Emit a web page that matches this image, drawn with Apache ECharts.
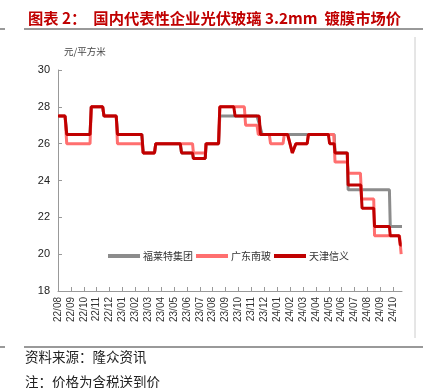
<!DOCTYPE html>
<html><head><meta charset="utf-8">
<script src="https://cdn.jsdelivr.net/npm/echarts@6/dist/echarts.min.js"></script>
<style>html,body{margin:0;padding:0;background:#fff}#c{width:433px;height:388px}</style>
</head><body><div id="c"></div>
<script>
// ---- data ----
const monthLabels = ['22/08','22/09','22/10','22/11','22/12','23/01','23/02','23/03','23/04','23/05','23/06','23/07','23/08','23/09','23/10','23/11','23/12','24/01','24/02','24/03','24/04','24/05','24/06','24/07','24/08','24/09','24/10'];
const yTicks = [18, 20, 22, 24, 26, 28, 30];
const seriesNames = ['福莱特集团', '广东南玻', '天津信义'];

const xinyiDates  = ['2022-08-01','2022-08-18','2022-08-22','2022-10-16','2022-10-19','2022-11-15','2022-11-18','2022-12-17','2022-12-20','2023-02-15','2023-02-18','2023-03-16','2023-03-19','2023-05-16','2023-05-19','2023-06-14','2023-06-16','2023-07-14','2023-07-16','2023-08-15','2023-08-18','2023-09-20','2023-09-23','2023-11-19','2023-11-22','2024-01-26','2024-02-06','2024-02-10','2024-02-14','2024-03-11','2024-03-14','2024-04-30','2024-05-03','2024-05-14','2024-05-16','2024-06-14','2024-06-16','2024-07-16','2024-07-19','2024-08-16','2024-08-18','2024-09-22','2024-09-24','2024-10-15','2024-10-18','2024-10-21'];
const xinyiValues = [27.5,27.5,26.5,26.5,28,28,27.5,27.5,26.5,26.5,25.5,25.5,26,26,25.5,25.5,25.2,25.2,26,26,28,28,27.5,27.5,26.5,26.5,25.5,25.5,26,26,26.5,26.5,26,26,25.5,25.5,23.75,23.75,22.5,22.5,21.5,21.5,21,21,20.5,20.5];

const nanboDates  = ['2022-08-01','2022-08-18','2022-08-22','2022-10-16','2022-10-19','2022-11-15','2022-11-18','2022-12-17','2022-12-20','2023-02-15','2023-02-18','2023-03-16','2023-03-19','2023-06-14','2023-06-16','2023-07-14','2023-07-16','2023-08-15','2023-08-18','2023-10-15','2023-10-18','2023-11-14','2023-11-17','2023-12-13','2023-12-16','2024-01-15','2024-01-18','2024-01-26','2024-02-06','2024-02-10','2024-02-14','2024-03-11','2024-03-14','2024-05-13','2024-05-16','2024-06-14','2024-06-16','2024-07-15','2024-07-18','2024-08-16','2024-08-18','2024-10-16','2024-10-20'];
const nanboValues = [27.5,27.5,26,26,28,28,27.5,27.5,26,26,25.5,25.5,26,26,25.5,25.5,26,26,28,28,27,27,26.5,26.5,26,26,26.5,26.5,25.5,25.5,26,26,26.5,26.5,25,25,24.4,24.4,23,23,21,21,20];

const flatDates  = ['2022-08-01','2022-08-18','2022-08-22','2022-10-16','2022-10-19','2022-11-15','2022-11-18','2022-12-17','2022-12-20','2023-02-15','2023-02-18','2023-03-16','2023-03-19','2023-05-16','2023-05-19','2023-06-14','2023-06-16','2023-07-14','2023-07-16','2023-08-15','2023-08-18','2023-11-14','2023-11-26','2024-05-14','2024-05-16','2024-06-14','2024-06-16','2024-09-22','2024-09-24','2024-10-22'];
const flatValues = [27.5,27.5,26.5,26.5,28,28,27.5,27.5,26.5,26.5,25.5,25.5,26,26,25.5,25.5,25.2,25.2,26,26,27.5,27.5,26.5,26.5,25.5,25.5,23.5,23.5,21.5,21.5];

const axisEnd = '2024-10-22';

// ---- helpers ----
function monthPos(s) {
  const [y, mo, d] = s.split('-').map(Number);
  const dim = new Date(y, mo, 0).getDate();
  return (y - 2022) * 12 + (mo - 8) + (d - 1) / dim;
}
function pairs(dates, vals) { return dates.map((d, i) => [monthPos(d), vals[i]]); }

const colors = ['#8c8c8c', '#ff6f6f', '#c00000'];
const lineData = [pairs(flatDates, flatValues), pairs(nanboDates, nanboValues), pairs(xinyiDates, xinyiValues)];
const tickIdx = monthLabels.map((_, i) => i);

const chart = echarts.init(document.getElementById('c'), null, { renderer: 'canvas' });
const font = '"Noto Sans CJK SC", sans-serif';
chart.setOption({
  animation: false,
  backgroundColor: '#fff',
  title: {
    text: '图表 2：  国内代表性企业光伏玻璃 3.2mm  镀膜市场价',
    left: 23, top: 6,
    textStyle: { color: '#c00000', fontSize: 15.3, fontWeight: 'bold', fontFamily: font }
  },
  grid: { left: 58, right: 31, top: 70, bottom: 97, containLabel: false },
  legend: {
    data: seriesNames,
    left: 103, top: 246,
    icon: 'rect', itemWidth: 32, itemHeight: 4, itemGap: 3,
    textStyle: { fontSize: 10, color: '#333', fontFamily: font, padding: [0, 0, 0, -2] }
  },
  xAxis: {
    type: 'value', min: 0, max: monthPos(axisEnd), interval: 1,
    splitLine: { show: false },
    axisLine: { lineStyle: { color: '#999', width: 1 } },
    axisTick: { inside: true, length: 4, customValues: tickIdx, lineStyle: { color: '#999' } },
    axisLabel: {
      customValues: tickIdx, rotate: 90, fontSize: 10, color: '#333', margin: 6,
      fontFamily: 'Liberation Sans, Arial, sans-serif',
      formatter: v => monthLabels[Math.round(v)] || ''
    }
  },
  yAxis: {
    type: 'value', min: yTicks[0], max: yTicks[yTicks.length - 1], interval: 2,
    splitLine: { show: false },
    axisLine: { show: true, lineStyle: { color: '#999', width: 1 } },
    axisTick: { show: true, inside: true, length: 4, lineStyle: { color: '#999' } },
    axisLabel: { fontSize: 11, color: '#222', margin: 8, fontFamily: 'Liberation Sans, Arial, sans-serif' }
  },
  series: lineData.map((d, i) => ({
    name: seriesNames[i], type: 'line', data: d, showSymbol: false,
    color: colors[i], lineStyle: { width: 3, color: colors[i] }, z: 2 + i
  })),
  graphic: [
    { type: 'line', shape: { x1: 0, y1: 29, x2: 5, y2: 29 }, style: { stroke: '#777', lineWidth: 1.5 } },
    { type: 'line', shape: { x1: 24, y1: 29, x2: 423, y2: 29 }, style: { stroke: '#777', lineWidth: 1.5 } },
    { type: 'line', shape: { x1: 415, y1: 37, x2: 415, y2: 338 }, style: { stroke: '#ccc', lineWidth: 1 } },
    { type: 'line', shape: { x1: 0, y1: 347, x2: 5, y2: 347 }, style: { stroke: '#777', lineWidth: 1.5 } },
    { type: 'line', shape: { x1: 24, y1: 347, x2: 423, y2: 347 }, style: { stroke: '#777', lineWidth: 1.5 } },
    { type: 'text', left: 64, top: 47, style: { text: '元/平方米', fill: '#444', font: '9.5px ' + font } },
    { type: 'text', left: 25, top: 350, style: { text: '资料来源：隆众资讯', fill: '#222', font: '13.5px ' + font } },
    { type: 'text', left: 25, top: 375, style: { text: '注：价格为含税送到价', fill: '#222', font: '13.5px ' + font } }
  ]
});
</script></body></html>
